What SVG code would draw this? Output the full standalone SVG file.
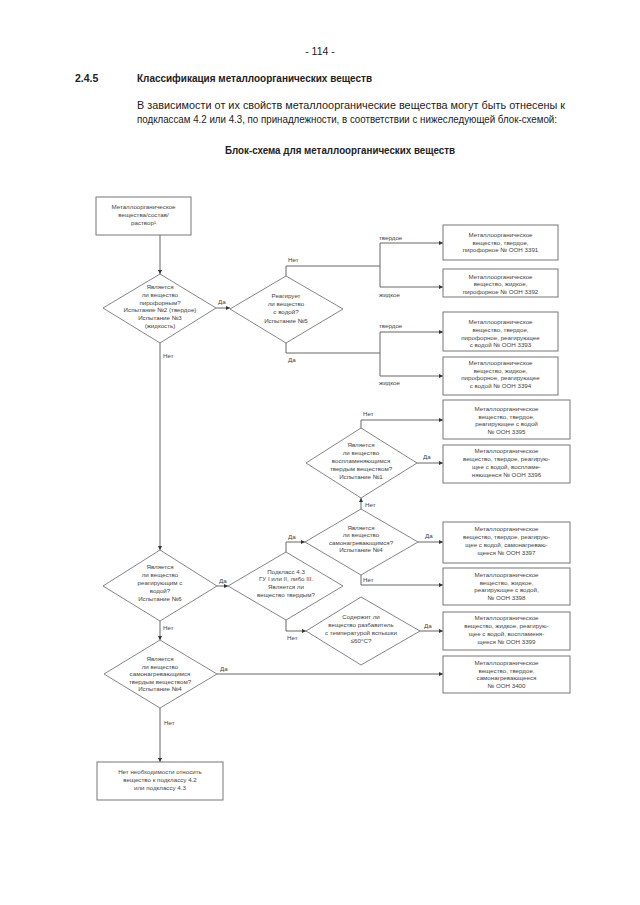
<svg xmlns="http://www.w3.org/2000/svg" width="640" height="905" viewBox="0 0 640 905">
<style>
.bg{fill:#fff}
.h{font-family:"Liberation Sans",Arial,sans-serif;font-size:10.5px;fill:#222}
.hb{font-family:"Liberation Sans",Arial,sans-serif;font-size:10.5px;font-weight:bold;fill:#222}
.box{fill:#fff;stroke:#777;stroke-width:1}
.dia{fill:#fff;stroke:#777;stroke-width:0.9}
.ln{fill:none;stroke:#666;stroke-width:1}
.t{font-family:"Liberation Sans",Arial,sans-serif;font-size:6.2px;fill:#444;text-anchor:middle}
.l{font-family:"Liberation Sans",Arial,sans-serif;font-size:6.2px;fill:#444}
</style>
<defs>
<marker id="a" viewBox="0 0 6 6" refX="6" refY="3" markerWidth="5" markerHeight="4" orient="auto" markerUnits="userSpaceOnUse">
<path d="M0,0 L6,3 L0,6 z" fill="#333"/>
</marker>
</defs>
<rect class="bg" x="0" y="0" width="640" height="905"/>

<g id="header">
<text class="h" x="320" y="55" text-anchor="middle">- 114 -</text>
<text class="hb" x="75" y="82">2.4.5</text>
<text class="hb" x="137" y="82" textLength="235" lengthAdjust="spacingAndGlyphs">Классификация металлоорганических веществ</text>
<text class="h" x="137" y="109" textLength="428" lengthAdjust="spacingAndGlyphs">В зависимости от их свойств металлоорганические вещества могут быть отнесены к</text>
<text class="h" x="137" y="123" textLength="420" lengthAdjust="spacingAndGlyphs">подклассам 4.2 или 4.3, по принадлежности, в соответствии с нижеследующей блок-схемой:</text>
<text class="hb" x="340" y="154" text-anchor="middle" textLength="230" lengthAdjust="spacingAndGlyphs">Блок-схема для металлоорганических веществ</text>
</g>

<g id="connectors">
<path class="ln" d="M160,235 V274" marker-end="url(#a)"/>
<path class="ln" d="M216,308 H230" marker-end="url(#a)"/>
<path class="ln" d="M286,276 V266 H380"/>
<path class="ln" d="M380,243 V287"/>
<path class="ln" d="M380,243 H443" marker-end="url(#a)"/>
<path class="ln" d="M380,287 H443" marker-end="url(#a)"/>
<path class="ln" d="M286,343 V353 H380"/>
<path class="ln" d="M380,332 V376"/>
<path class="ln" d="M380,332 H443" marker-end="url(#a)"/>
<path class="ln" d="M380,376 H443" marker-end="url(#a)"/>
<path class="ln" d="M160,343 V550" marker-end="url(#a)"/>
<path class="ln" d="M361,428 V420 H443" marker-end="url(#a)"/>
<path class="ln" d="M417,463 H443" marker-end="url(#a)"/>
<path class="ln" d="M361,509 V498" marker-end="url(#a)"/>
<path class="ln" d="M418,542 H443" marker-end="url(#a)"/>
<path class="ln" d="M361,575 V585 H443" marker-end="url(#a)"/>
<path class="ln" d="M217,586 H228" marker-end="url(#a)"/>
<path class="ln" d="M286,552 V542 H305" marker-end="url(#a)"/>
<path class="ln" d="M286,620 V631 H306" marker-end="url(#a)"/>
<path class="ln" d="M420,631 H443" marker-end="url(#a)"/>
<path class="ln" d="M160,621 V640" marker-end="url(#a)"/>
<path class="ln" d="M217,674 H443" marker-end="url(#a)"/>
<path class="ln" d="M160,708 V762" marker-end="url(#a)"/>
<text class="l" x="218" y="304">Да</text>
<text class="l" x="288" y="262">Нет</text>
<text class="l" x="379" y="240">твердое</text>
<text class="l" x="379" y="297">жидкое</text>
<text class="l" x="288" y="362">Да</text>
<text class="l" x="379" y="328">твердое</text>
<text class="l" x="379" y="385">жидкое</text>
<text class="l" x="163" y="358">Нет</text>
<text class="l" x="363" y="416">Нет</text>
<text class="l" x="423" y="459">Да</text>
<text class="l" x="365" y="507">Нет</text>
<text class="l" x="425" y="538">Да</text>
<text class="l" x="363" y="582">Нет</text>
<text class="l" x="219" y="583">Да</text>
<text class="l" x="288" y="539">Да</text>
<text class="l" x="287" y="640">Нет</text>
<text class="l" x="424" y="628">Да</text>
<text class="l" x="163" y="630">Нет</text>
<text class="l" x="220" y="671">Да</text>
<text class="l" x="164" y="725">Нет</text>
</g>

<g id="start">
<rect class="box" x="96" y="197" width="95" height="38"/>
<text class="t" x="143.5" y="209">Металлоорганическое</text>
<text class="t" x="143.5" y="217">вещества/состав/</text>
<text class="t" x="143.5" y="225">раствор¹</text>
</g>

<g id="d1">
<polygon class="dia" points="160,274 216,308 160,343 103,308"/>
<text class="t" x="160" y="289">Является</text>
<text class="t" x="160" y="297">ли вещество</text>
<text class="t" x="160" y="304.5">пирофорным?</text>
<text class="t" x="160" y="312">Испытание №2 (твердое)</text>
<text class="t" x="160" y="320">Испытание №3</text>
<text class="t" x="160" y="328">(жидкость)</text>
</g>

<g id="d2">
<polygon class="dia" points="286,276 343,309 286,343 230,309"/>
<text class="t" x="286" y="298">Реагирует</text>
<text class="t" x="286" y="306">ли вещество</text>
<text class="t" x="286" y="314">с водой?</text>
<text class="t" x="286" y="322.5">Испытание №5</text>
</g>

<g id="b3391">
<rect class="box" x="443" y="225" width="115" height="35"/>
<text class="t" x="500.5" y="237">Металлоорганическое</text>
<text class="t" x="500.5" y="244.5">вещество, твердое,</text>
<text class="t" x="500.5" y="252">пирофорное № ООН 3391</text>
</g>
<g id="b3392">
<rect class="box" x="443" y="269" width="115" height="28"/>
<text class="t" x="500.5" y="278.5">Металлоорганическое</text>
<text class="t" x="500.5" y="286">вещество, жидкое,</text>
<text class="t" x="500.5" y="293.5">пирофорное № ООН 3392</text>
</g>
<g id="b3393">
<rect class="box" x="443" y="312" width="115" height="39"/>
<text class="t" x="500.5" y="324">Металлоорганическое</text>
<text class="t" x="500.5" y="332">вещество, твердое,</text>
<text class="t" x="500.5" y="339.5">пирофорное, реагирующее</text>
<text class="t" x="500.5" y="347">с водой № ООН 3393</text>
</g>
<g id="b3394">
<rect class="box" x="443" y="357" width="115" height="38"/>
<text class="t" x="500.5" y="365">Металлоорганическое</text>
<text class="t" x="500.5" y="372.5">вещество, жидкое,</text>
<text class="t" x="500.5" y="380">пирофорное, реагирующее</text>
<text class="t" x="500.5" y="388">с водой № ООН 3394</text>
</g>

<g id="d3">
<polygon class="dia" points="361,428 417,463 361,498 306,463"/>
<text class="t" x="361" y="447">Является</text>
<text class="t" x="361" y="455">ли вещество</text>
<text class="t" x="361" y="463">воспламеняющимся</text>
<text class="t" x="361" y="471">твердым веществом?</text>
<text class="t" x="361" y="478.5">Испытание №1</text>
</g>
<g id="b3395">
<rect class="box" x="443" y="400" width="127" height="39"/>
<text class="t" x="506.5" y="411">Металлоорганическое</text>
<text class="t" x="506.5" y="418.5">вещество, твердое,</text>
<text class="t" x="506.5" y="426">реагирующее с водой</text>
<text class="t" x="506.5" y="434">№ ООН 3395</text>
</g>
<g id="b3396">
<rect class="box" x="443" y="445" width="127" height="38"/>
<text class="t" x="506.5" y="452.5">Металлоорганическое</text>
<text class="t" x="506.5" y="460.5">вещество, твердое, реагирую-</text>
<text class="t" x="506.5" y="468.5">щее с водой, воспламе-</text>
<text class="t" x="506.5" y="477">няющееся № ООН 3396</text>
</g>

<g id="d4">
<polygon class="dia" points="361,509 418,542 361,575 305,542"/>
<text class="t" x="361" y="529.5">Является</text>
<text class="t" x="361" y="537">ли вещество</text>
<text class="t" x="361" y="544.5">самонагревающимся?</text>
<text class="t" x="361" y="552">Испытание №4</text>
</g>
<g id="b3397">
<rect class="box" x="443" y="522" width="127" height="41"/>
<text class="t" x="506.5" y="531">Металлоорганическое</text>
<text class="t" x="506.5" y="539">вещество, твердое, реагирую-</text>
<text class="t" x="506.5" y="547">щее с водой, самонагреваю-</text>
<text class="t" x="506.5" y="554.5">щееся № ООН 3397</text>
</g>

<g id="d5">
<polygon class="dia" points="160,550 217,586 160,621 103,586"/>
<text class="t" x="160" y="569">Является</text>
<text class="t" x="160" y="577">ли вещество</text>
<text class="t" x="160" y="585">реагирующим с</text>
<text class="t" x="160" y="593">водой?</text>
<text class="t" x="160" y="601">Испытание №6</text>
</g>

<g id="dsub">
<polygon class="dia" points="286,552 343,586 286,620 228,586"/>
<text class="t" x="286" y="573.5">Подкласс 4.3</text>
<text class="t" x="286" y="581">ГУ I или II, либо III.</text>
<text class="t" x="286" y="589">Является ли</text>
<text class="t" x="286" y="596.5">вещество твердым?</text>
</g>

<g id="b3398">
<rect class="box" x="443" y="568" width="127" height="37"/>
<text class="t" x="506.5" y="577">Металлоорганическое</text>
<text class="t" x="506.5" y="584.5">вещество, жидкое,</text>
<text class="t" x="506.5" y="592">реагирующее с водой,</text>
<text class="t" x="506.5" y="599.5">№ ООН 3398</text>
</g>

<g id="dflash">
<polygon class="dia" points="361,597 420,631 361,665 306,631"/>
<text class="t" x="361" y="618.5">Содержит ли</text>
<text class="t" x="361" y="626.5">вещество разбавитель</text>
<text class="t" x="361" y="635">с температурой вспышки</text>
<text class="t" x="361" y="643">≤60°C?</text>
</g>
<g id="b3399">
<rect class="box" x="443" y="612" width="127" height="38"/>
<text class="t" x="506.5" y="620">Металлоорганическое</text>
<text class="t" x="506.5" y="628">вещество, жидкое, реагирую-</text>
<text class="t" x="506.5" y="636">щее с водой, воспламеня-</text>
<text class="t" x="506.5" y="643.5">щееся № ООН 3399</text>
</g>

<g id="d6">
<polygon class="dia" points="160,640 217,674 160,708 104,674"/>
<text class="t" x="160" y="661">Является</text>
<text class="t" x="160" y="668.5">ли вещество</text>
<text class="t" x="160" y="676">самонагревающимся</text>
<text class="t" x="160" y="683.5">твердым веществом?</text>
<text class="t" x="160" y="691">Испытание №4</text>
</g>
<g id="b3400">
<rect class="box" x="443" y="656" width="127" height="37"/>
<text class="t" x="506.5" y="664.5">Металлоорганическое</text>
<text class="t" x="506.5" y="672.5">вещество, твердое,</text>
<text class="t" x="506.5" y="680">самонагревающееся</text>
<text class="t" x="506.5" y="688">№ ООН 3400</text>
</g>

<g id="end">
<rect class="box" x="97" y="762" width="126" height="38"/>
<text class="t" x="160" y="773.5">Нет необходимости относить</text>
<text class="t" x="160" y="781.5">вещество к подклассу 4.2</text>
<text class="t" x="160" y="789.5">или подклассу 4.3</text>
</g>
</svg>
